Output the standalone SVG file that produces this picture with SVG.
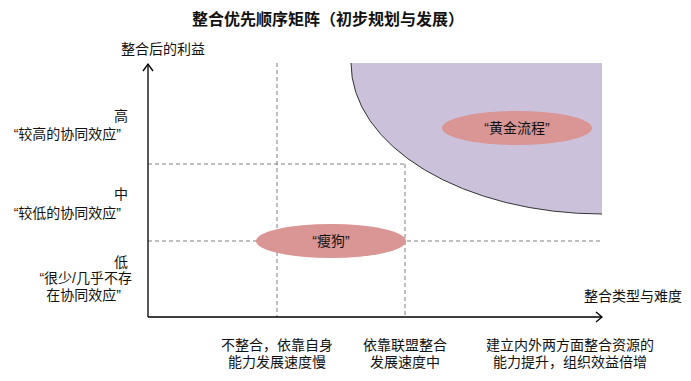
<svg xmlns="http://www.w3.org/2000/svg" width="691" height="381" viewBox="0 0 691 381">
<style>
text{font-family:"Liberation Sans","Noto Sans CJK SC",sans-serif;fill:#111;font-size:14px}
.t{font-size:16px;font-weight:bold}
.dash{stroke:#7f7f7f;stroke-width:1;stroke-dasharray:4 3;fill:none}
.ax{stroke:#000;stroke-width:1.3;fill:none}
.blob{fill:#D99694}
</style>
<rect width="691" height="381" fill="#fff"/>
<text class="t" x="328" y="25" text-anchor="middle">整合优先顺序矩阵（初步规划与发展）</text>
<g id="grid">
<path class="dash" d="M148,164H405M148,241H602M277,63V317M405,164V317"/>
</g>
<g id="region">
<path d="M351,63A251,151 0 0 0 602,214V63Z" fill="#CCC1DA"/>
<path d="M351,63A251,151 0 0 0 602,214" fill="none" stroke="#333" stroke-width="1"/>
</g>
<g id="connectors">
<path class="ax" d="M148,317V64M148,317H602"/>
<path class="ax" d="M143,71L148,64L153,71M596,312L602,317L596,322"/>
</g>
<g id="gold">
<ellipse class="blob" cx="517" cy="128" rx="75" ry="17"/>
<text x="517" y="133" text-anchor="middle">“黄金流程”</text>
</g>
<g id="dog">
<ellipse class="blob" cx="331" cy="241" rx="75" ry="17"/>
<text x="331" y="246" text-anchor="middle">“瘦狗”</text>
</g>
<g id="yaxis-label"><text x="163" y="54" text-anchor="middle">整合后的利益</text></g>
<g id="xaxis-label"><text x="633" y="301" text-anchor="middle">整合类型与难度</text></g>
<g id="high">
<text x="128" y="121" text-anchor="end">高</text>
<text x="121" y="139" text-anchor="end">“较高的协同效应”</text>
</g>
<g id="mid">
<text x="128" y="199" text-anchor="end">中</text>
<text x="121" y="218" text-anchor="end">“较低的协同效应”</text>
</g>
<g id="low">
<text x="128" y="267" text-anchor="end">低</text>
<text x="132" y="283" text-anchor="end">“很少/几乎不存</text>
<text x="121" y="300" text-anchor="end">在协同效应”</text>
</g>
<g id="x1">
<text x="277" y="350" text-anchor="middle">不整合，依靠自身</text>
<text x="277" y="367" text-anchor="middle">能力发展速度慢</text>
</g>
<g id="x2">
<text x="405" y="350" text-anchor="middle">依靠联盟整合</text>
<text x="405" y="367" text-anchor="middle">发展速度中</text>
</g>
<g id="x3">
<text x="570" y="350" text-anchor="middle">建立内外两方面整合资源的</text>
<text x="570" y="367" text-anchor="middle">能力提升，组织效益倍增</text>
</g>
</svg>
